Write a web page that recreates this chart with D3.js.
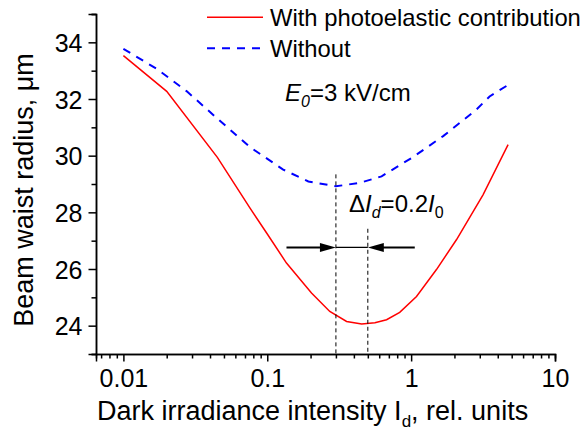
<!DOCTYPE html>
<html>
<head>
<meta charset="utf-8">
<script src="https://cdn.jsdelivr.net/npm/d3@7"></script>
<style>
  html, body { margin: 0; padding: 0; background: #fff; }
  svg { display: block; font-family: "Liberation Sans", Arial, Helvetica, sans-serif; }
</style>
</head>
<body>
<svg id="chart" width="588" height="433"></svg>
<script>
// Beam waist radius vs. dark irradiance intensity
const withPhotoX = [0.01, 0.02, 0.045, 0.0759, 0.099, 0.136, 0.203, 0.272, 0.356, 0.453, 0.56, 0.675, 0.833, 1.09, 1.5, 2.07, 3.16, 4.72];
const withPhotoY = [33.53, 32.27, 29.94, 28.15, 27.27, 26.21, 25.15, 24.5, 24.15, 24.06, 24.1, 24.21, 24.47, 25.03, 25.98, 27.04, 28.62, 30.39];
const withoutX = [0.01, 0.0171, 0.0276, 0.0445, 0.0759, 0.129, 0.193, 0.3, 0.44, 0.623, 1.03, 1.67, 2.85, 3.51, 4.6];
const withoutY = [33.77, 33.06, 32.27, 31.33, 30.3, 29.51, 29.09, 28.92, 29.04, 29.27, 29.95, 30.69, 31.63, 32.09, 32.46];
const seriesNames = ["With photoelastic contribution", "Without"];
const xTickValues = [0.01, 0.1, 1, 10];
const xTickLabels = ["0.01", "0.1", "1", "10"];
const yTickValues = [24, 26, 28, 30, 32, 34];
const markerX = [0.3, 0.5];        // I_d positions of the two minima
const markerTop = [29.34, 27.42];  // where the dashed markers start
const arrowLevel = 26.76;          // height of the Δ arrows
const arrowFrom = [0.136, 1.06];   // outer ends of the two arrows

const svg = d3.select("#chart");
const mLeft = 96, mRight = 555, mTop = 14, mBottom = 354;

const x = d3.scaleLog().domain([0.00645, 10]).range([mLeft, mRight]);
const y = d3.scaleLinear().domain([23, 35]).range([mBottom, mTop]);

// axes: major ticks labelled, minor ticks between
const minorX = [];
for (let dec = -3; dec <= 0; dec++) for (let k = 2; k <= 9; k++) {
  const v = k * Math.pow(10, dec);
  if (v >= 0.0065 && v <= 10) minorX.push(v);
}
const xAxisMinor = d3.axisBottom(x).tickValues(minorX).tickSize(4.5).tickFormat("");
const xAxisMajor = d3.axisBottom(x).tickValues(xTickValues).tickSize(7.5)
  .tickFormat((d, i) => xTickLabels[i]);
const yMinor = d3.range(23, 36, 2);
const yAxisMinor = d3.axisLeft(y).tickValues(yMinor).tickSize(4.5).tickFormat("");
const yAxisMajor = d3.axisLeft(y).tickValues(yTickValues).tickSize(7.5).tickFormat(d3.format("d"));

function styleAxis(g) {
  g.selectAll("path, line").attr("stroke", "#000").attr("stroke-width", 1.5);
  g.selectAll("text").attr("fill", "#000").style("font-size", "25px");
}
svg.append("g").attr("transform", `translate(0,${mBottom})`).call(xAxisMinor).call(styleAxis);
svg.append("g").attr("transform", `translate(0,${mBottom})`).call(xAxisMajor).call(styleAxis)
  .call(g => g.selectAll("text").attr("dy", null).attr("y", 32.5));
svg.append("g").attr("transform", `translate(${mLeft},0)`).call(yAxisMinor).call(styleAxis);
svg.append("g").attr("transform", `translate(${mLeft},0)`).call(yAxisMajor).call(styleAxis)
  .call(g => g.selectAll("text").attr("x", -13.5).attr("dy", "0.36em"));

// curves
const line = d3.line().x(d => x(d[0])).y(d => y(d[1]));
svg.append("path").datum(withoutX.map((v, i) => [v, withoutY[i]]))
  .attr("d", line).attr("fill", "none").attr("stroke", "#0000ff")
  .attr("stroke-width", 2).attr("stroke-dasharray", "8,7");
svg.append("path").datum(withPhotoX.map((v, i) => [v, withPhotoY[i]]))
  .attr("d", line).attr("fill", "none").attr("stroke", "#ff0000")
  .attr("stroke-width", 1.5);

// vertical dashed markers at the two minima
markerX.forEach((m, i) => {
  svg.append("line").attr("x1", x(m)).attr("x2", x(m))
    .attr("y1", y(markerTop[i])).attr("y2", mBottom)
    .attr("stroke", "#000").attr("stroke-width", 1).attr("stroke-dasharray", "4,3");
});

// arrows pointing at the markers
const ay = y(arrowLevel);
const tipL = x(markerX[0]), tipR = x(markerX[1]);
svg.append("line").attr("x1", tipL).attr("x2", tipR)
  .attr("y1", ay).attr("y2", ay).attr("stroke", "#000").attr("stroke-width", 1.2);
svg.append("line").attr("x1", x(arrowFrom[0])).attr("x2", tipL - 10)
  .attr("y1", ay).attr("y2", ay).attr("stroke", "#000").attr("stroke-width", 2);
svg.append("line").attr("x1", x(arrowFrom[1])).attr("x2", tipR + 10)
  .attr("y1", ay).attr("y2", ay).attr("stroke", "#000").attr("stroke-width", 2);
svg.append("path").attr("d", `M${tipL},${ay} L${tipL - 16},${ay - 4.5} L${tipL - 16},${ay + 4.5} Z`).attr("fill", "#000");
svg.append("path").attr("d", `M${tipR},${ay} L${tipR + 16},${ay - 4.5} L${tipR + 16},${ay + 4.5} Z`).attr("fill", "#000");

// legend
const legend = svg.append("g");
[0, 1].forEach(i => {
  const ly = 17.3 + i * 31;
  legend.append("line").attr("x1", 207).attr("x2", 263).attr("y1", ly).attr("y2", ly)
    .attr("stroke", i === 0 ? "#ff0000" : "#0000ff")
    .attr("stroke-width", i === 0 ? 1.5 : 2)
    .attr("stroke-dasharray", i === 0 ? null : "8,7");
  legend.append("text").attr("x", 270).attr("y", ly + 8.5).style("font-size", "23.8px")
    .text(seriesNames[i]);
});

// annotations
const e0 = svg.append("text").attr("x", 285).attr("y", 101).style("font-size", "24px");
e0.append("tspan").style("font-style", "italic").text("E");
e0.append("tspan").style("font-style", "italic").style("font-size", "16px").attr("dy", 6).text("0");
e0.append("tspan").attr("dy", -6).text("=3 kV/cm");

const di = svg.append("text").attr("x", 349).attr("y", 212).style("font-size", "24px");
di.append("tspan").text("Δ");
di.append("tspan").style("font-style", "italic").text("I");
di.append("tspan").style("font-style", "italic").style("font-size", "16px").attr("dy", 6).text("d");
di.append("tspan").attr("dy", -6).text("=0.2");
di.append("tspan").style("font-style", "italic").text("I");
di.append("tspan").style("font-size", "16px").attr("dy", 6).text("0");

// axis titles
const xt = svg.append("text").attr("x", 97).attr("y", 420).style("font-size", "27px");
xt.append("tspan").text("Dark irradiance intensity I");
xt.append("tspan").style("font-size", "17px").attr("dy", 7).text("d");
xt.append("tspan").attr("dy", -7).text(", rel. units");

svg.append("text").attr("transform", "translate(33,190) rotate(-90)")
  .attr("text-anchor", "middle").style("font-size", "27px")
  .text("Beam waist radius, μm");
</script>
</body>
</html>
